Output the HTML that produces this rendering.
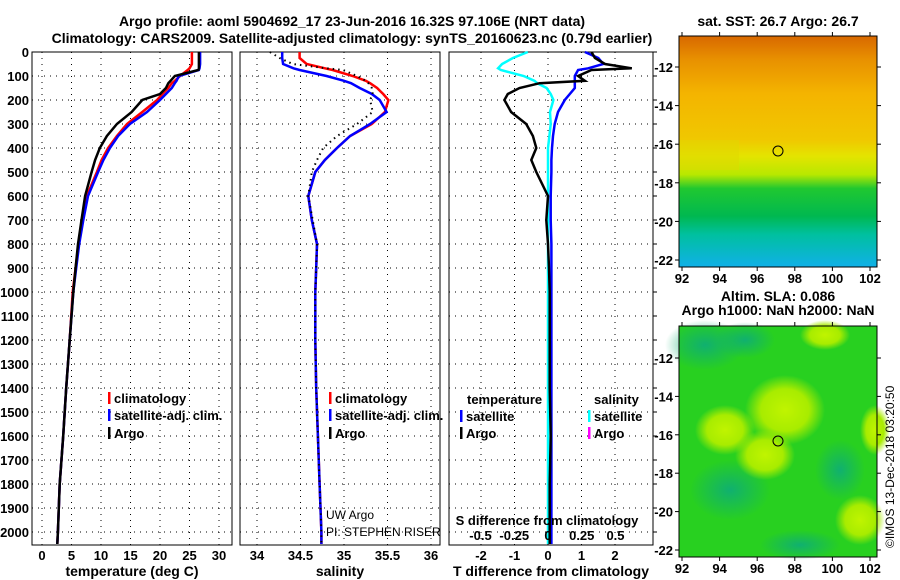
<!DOCTYPE html>
<html><head><meta charset="utf-8"><style>
body{margin:0;background:#fff;}
svg{display:block;font-family:"Liberation Sans",sans-serif;}
.t{font-weight:bold;font-size:14px;fill:#000}
.tk{font-weight:bold;font-size:13px;fill:#000}
</style></head><body>
<svg id="c" width="900" height="580" viewBox="0 0 900 580" xmlns="http://www.w3.org/2000/svg">
<defs>
<linearGradient id="sst" x1="0" y1="0" x2="0" y2="1">
<stop offset="0" stop-color="#d86800"/><stop offset="0.1" stop-color="#e89000"/><stop offset="0.25" stop-color="#f4b400"/><stop offset="0.45" stop-color="#f0c800"/><stop offset="0.52" stop-color="#e4e400"/><stop offset="0.6" stop-color="#b8e800"/><stop offset="0.66" stop-color="#20c830"/><stop offset="0.78" stop-color="#00b850"/><stop offset="0.86" stop-color="#00c0a0"/><stop offset="1" stop-color="#10b0e8"/>
</linearGradient>
<radialGradient id="yel"><stop offset="0" stop-color="#c0f400"/><stop offset="0.6" stop-color="#a8ec00"/><stop offset="1" stop-color="#a8ec00" stop-opacity="0"/></radialGradient>
<radialGradient id="teal"><stop offset="0" stop-color="#10b070"/><stop offset="1" stop-color="#10b070" stop-opacity="0"/></radialGradient>
</defs>
<text class="t" x="352" y="26" text-anchor="middle">Argo profile: aoml 5904692_17 23-Jun-2016 16.32S 97.106E (NRT data)</text>
<text class="t" x="352" y="43" text-anchor="middle">Climatology: CARS2009. Satellite-adjusted climatology: synTS_20160623.nc (0.79d earlier)</text>
<g id="p1"></g>
<g id="p2"></g>
<g id="p3"></g>

<text class="t" x="778" y="26" text-anchor="middle">sat. SST: 26.7 Argo: 26.7</text>
<g>
<rect x="679" y="36" width="198" height="231" fill="url(#sst)"/>
<rect x="679" y="140" width="60" height="30" fill="#e0d800" opacity="0.5"/>
<circle cx="778" cy="151" r="5" fill="none" stroke="#000"/>
<rect x="679" y="36" width="198" height="231" fill="none" stroke="#000"/>
</g>
<text class="t" x="778" y="301" text-anchor="middle">Altim. SLA: 0.086</text>
<text class="t" x="778" y="315" text-anchor="middle">Argo h1000: NaN h2000: NaN</text>
<g>
<rect x="679" y="326" width="198" height="231" fill="#28d020"/>
<ellipse cx="705" cy="345" rx="40" ry="25" fill="url(#teal)"/>
<ellipse cx="745" cy="340" rx="30" ry="18" fill="url(#teal)"/>
<ellipse cx="730" cy="490" rx="40" ry="30" fill="url(#teal)"/>
<ellipse cx="840" cy="470" rx="25" ry="30" fill="url(#teal)"/>
<ellipse cx="800" cy="545" rx="40" ry="15" fill="url(#teal)"/>
<ellipse cx="785" cy="410" rx="40" ry="35" fill="url(#yel)"/>
<ellipse cx="725" cy="430" rx="30" ry="25" fill="url(#yel)"/>
<ellipse cx="765" cy="455" rx="30" ry="25" fill="url(#yel)"/>
<ellipse cx="860" cy="520" rx="25" ry="25" fill="url(#yel)"/>
<ellipse cx="825" cy="335" rx="25" ry="15" fill="url(#yel)"/>
<ellipse cx="875" cy="430" rx="15" ry="25" fill="url(#yel)"/>
<circle cx="778" cy="441" r="5" fill="none" stroke="#000"/>
<rect x="679" y="326" width="198" height="231" fill="none" stroke="#000"/>
</g>
<g id="maps"></g>
<text x="894" y="548" font-size="12" transform="rotate(-90 894 548)" style="font-family:'Liberation Sans',sans-serif">©IMOS 13-Dec-2018 03:20:50</text>
</svg>
<script>
const depths=[0,25,50,68,75,100,120,130,150,175,200,250,300,350,400,450,500,600,700,800,900,1000,1200,1400,1600,1800,2000,2050];
const tArgo=[26.6,26.6,26.6,26.6,26.5,22.5,21.8,21.4,21,20,17,15.2,12.7,11,9.8,9,8.4,7.3,6.7,6.1,5.7,5.3,4.7,4.1,3.6,3.0,2.7,2.6];
const tClim=[25.4,25.4,25.4,25.0,24.7,23.4,22.5,22.0,21.4,20.4,19.5,17,14.4,12.7,11.2,10.1,9.3,7.6,6.9,6.2,5.7,5.2,4.7,4.1,3.6,3.0,2.7,2.6];
const tSat=[26.8,26.8,26.8,26.7,26.6,23.2,22.8,22.5,22,21,20,17.8,14.9,12.9,11.5,10.4,9.5,7.8,7.0,6.3,5.8,5.3,4.7,4.1,3.6,3.0,2.7,2.6];
const sArgo=[34.15,34.26,34.41,34.8,34.99,35.15,35.25,35.28,35.32,35.33,35.30,35.33,35.15,34.92,34.76,34.69,34.63,34.59,34.64,34.69,34.68,34.67,34.67,34.68,34.7,34.72,34.74,34.74];
const sClim=[34.49,34.49,34.57,34.78,34.87,35.10,35.25,35.30,35.38,35.45,35.51,35.47,35.32,35.07,34.92,34.78,34.67,34.59,34.63,34.69,34.68,34.67,34.67,34.68,34.7,34.72,34.74,34.74];
const sSat=[34.29,34.29,34.30,34.42,34.49,34.80,35.0,35.08,35.18,35.32,35.41,35.49,35.30,35.07,34.92,34.78,34.67,34.59,34.63,34.69,34.68,34.67,34.67,34.68,34.7,34.72,34.74,34.74];
const dTArgo=[1.3,1.4,1.7,2.5,1.3,0.9,1.1,-0.25,-0.85,-1.2,-1.3,-1.1,-0.65,-0.45,-0.35,-0.5,-0.35,0,-0.05,0,0.03,0.05,0.05,0.05,0.08,0.05,0.05,0.05];
const dTSat=[1.1,1.5,1.65,1.2,0.9,0.8,0.8,0.8,0.8,0.65,0.5,0.3,0.2,0.15,0.12,0.1,0.1,0.08,0.08,0.1,0.1,0.1,0.1,0.1,0.1,0.1,0.1,0.1];
const dSSat=[-0.15,-0.26,-0.34,-0.37,-0.35,-0.18,-0.1,-0.08,-0.01,0.02,0.04,0.015,0.02,0.01,0,0,0,0,0,0,0,0,0,0,0,0,0,0];
const depthTicks=[0,100,200,300,400,500,600,700,800,900,1000,1100,1200,1300,1400,1500,1600,1700,1800,1900,2000];
const tTicks=[0,5,10,15,20,25,30];
const sTicks=[34,34.5,35,35.5,36];
const dTTicks=[-2,-1,0,1,2];
const dSTicks=[-0.5,-0.25,0,0.25,0.5];
const lonTicks=[92,94,96,98,100,102];
const latTicks=[-12,-14,-16,-18,-20,-22];

const NS='http://www.w3.org/2000/svg';
const yD=d=>52+d*0.24;
const xT=t=>42+t*5.9;
const xS=s=>257+(s-34)*87;
const xDT=v=>548+v*33.5;
const xDS=v=>548+v*135;
function mk(p,tag,a){const e=document.createElementNS(NS,tag);for(const k in a)e.setAttribute(k,a[k]);p.appendChild(e);return e;}
function frame(g,x0,x1,xs,xfn,labels,xlabel){
  depthTicks.forEach(d=>{const l=mk(g,'line',{x1:x0,x2:x1,y1:yD(d),y2:yD(d),stroke:'#000','stroke-dasharray':'1 5'});
    
    });
  xs.forEach((v,i)=>{const x=xfn(v);const l=mk(g,'line',{x1:x,x2:x,y1:52,y2:545,stroke:'#000','stroke-dasharray':'1 5'});
    
    
    if(labels){const t=mk(g,'text',{x:x,y:560,'text-anchor':'middle',class:'tk'});t.textContent=labels[i];
    
    }});
  const r=mk(g,'rect',{x:x0,y:52,width:x1-x0,height:493,fill:'none',stroke:'#000'});
  
  
  const t=mk(g,'text',{x:(x0+x1)/2,y:576,'text-anchor':'middle',class:'t'});t.textContent=xlabel;
  
  
}
function line(g,xs,xfn,color,name,dash){const pts=depths.map((d,i)=>xfn(xs[i]).toFixed(1)+','+yD(d).toFixed(1)).join(' ');
  const p=mk(g,'polyline',{points:pts,fill:'none',stroke:color,'stroke-width':dash?2:2.5,'stroke-dasharray':dash||'none'});
  
  }
function leg(g,x,y,color,label){mk(g,'rect',{x:x,y:y-11,width:2.5,height:12,fill:color});
  const t=mk(g,'text',{x:x+6,y:y,class:'tk'});t.textContent=label;
  
  }

const p1=document.getElementById('p1'),p2=document.getElementById('p2'),p3=document.getElementById('p3');
frame(p1,32,232,tTicks,xT,tTicks.map(String),'temperature (deg C)');
depthTicks.forEach(d=>{const t=mk(p1,'text',{x:29,y:yD(d)+5,'text-anchor':'end',class:'tk'});t.textContent=d;
  
  });
line(p1,tClim,xT,'#f00','temp-climatology-line');
line(p1,tSat,xT,'#00f','temp-satellite-line');
line(p1,tArgo,xT,'#000','temp-argo-line');
leg(p1,108,403,'#f00','climatology');leg(p1,108,420,'#00f','satellite-adj. clim.');leg(p1,108,438,'#000','Argo');

frame(p2,240,440,sTicks,xS,['34','34.5','35','35.5','36'],'salinity');
line(p2,sClim,xS,'#f00','sal-climatology-line');
line(p2,sSat,xS,'#00f','sal-satellite-line');
line(p2,sArgo,xS,'#000','sal-argo-line','1.5 4');
leg(p2,329,403,'#f00','climatology');leg(p2,329,420,'#00f','satellite-adj. clim.');leg(p2,329,438,'#000','Argo');
[['UW Argo',519],['PI: STEPHEN RISER',536]].forEach(([s,y])=>{const t=mk(p2,'text',{x:326,y:y,'font-size':12});t.textContent=s;
  
  });

frame(p3,449,653,dTTicks,xDT,['-2','-1','0','1','2'],'T difference from climatology');
depthTicks.forEach(d=>{const l=mk(p3,'line',{x1:653,x2:657,y1:yD(d),y2:yD(d),stroke:'#000'});
  
  });
line(p3,dSSat,xDS,'#00ffff','sdiff-satellite-line');
line(p3,dTSat,xDT,'#00f','tdiff-satellite-line');
line(p3,dTArgo,xDT,'#000','tdiff-argo-line');
{const t=mk(p3,'text',{x:467,y:404,class:'tk'});t.textContent='temperature';
 
 
 const u=mk(p3,'text',{x:594,y:404,class:'tk'});u.textContent='salinity';
 
 }
leg(p3,460,421,'#00f','satellite');leg(p3,460,438,'#000','Argo');
leg(p3,588,421,'#00ffff','satellite');leg(p3,588,438,'#ff00ff','Argo');
{const t=mk(p3,'text',{x:547,y:525,'text-anchor':'middle',class:'tk'});t.textContent='S difference from climatology';
 
 }
dSTicks.forEach(v=>{const t=mk(p3,'text',{x:xDS(v),y:540,'text-anchor':'middle',class:'tk'});t.textContent=String(v);
  
  });

const mg=document.getElementById('maps');
const xLon=v=>682+(v-92)*18.8;
[[36,267,67,260],[326,557,358,550]].forEach(([top,bot,y12,y22])=>{
  const yLat=v=>y12+(-12-v)*(y22-y12)/10;
  lonTicks.forEach(v=>{mk(mg,'line',{x1:xLon(v),x2:xLon(v),y1:bot,y2:bot+4,stroke:'#000'});mk(mg,'line',{x1:xLon(v),x2:xLon(v),y1:top,y2:top-4,stroke:'#000'});
    const t=mk(mg,'text',{x:xLon(v),y:bot+16,'text-anchor':'middle',class:'tk'});t.textContent=v;
    
    });
  latTicks.forEach(v=>{mk(mg,'line',{x1:675,x2:679,y1:yLat(v),y2:yLat(v),stroke:'#000'});mk(mg,'line',{x1:877,x2:881,y1:yLat(v),y2:yLat(v),stroke:'#000'});
    const t=mk(mg,'text',{x:673,y:yLat(v)+5,'text-anchor':'end',class:'tk'});t.textContent=v;
    
    });
});
</script>
</body></html>
